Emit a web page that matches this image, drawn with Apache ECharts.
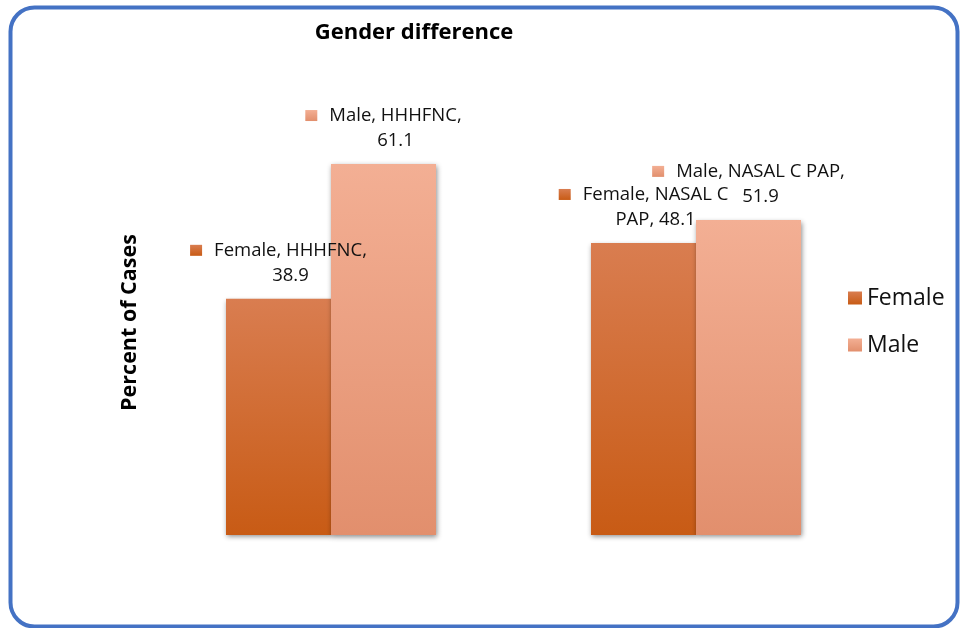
<!DOCTYPE html>
<html>
<head>
<meta charset="utf-8">
<script src="https://cdn.jsdelivr.net/npm/echarts@6/dist/echarts.min.js"></script>
<style>
  html, body { margin: 0; padding: 0; background: #fff; }
  #chart { width: 960px; height: 628px; }
</style>
</head>
<body>
<div id="chart"></div>
<script>
// ---- data ----
const categories = ['HHHFNC', 'NASAL C PAP'];
const seriesNames = ['Female', 'Male'];
const femaleValues = [38.9, 48.1];
const maleValues = [61.1, 51.9];
// number of words on the first line of each data label
const femaleFirstLineWords = [2, 3];
const maleFirstLineWords = [2, 4];
const chartTitle = 'Gender difference';
const yAxisTitle = 'Percent of Cases';

const FONT = '"Open Sans", Lato, sans-serif';

function grad(top, bottom) {
  return new echarts.graphic.LinearGradient(0, 0, 0, 1, [
    { offset: 0, color: top },
    { offset: 1, color: bottom }
  ]);
}
const femaleColor = grad('#D97D50', '#C85B15');
const maleColor = grad('#F3AF94', '#E28F6D');

function makeLabel(markerColor, firstWords) {
  return {
    show: true,
    position: 'top',
    distance: 11,
    formatter: function (p) {
      const words = (p.seriesName + ', ' + p.name + ', ' + p.value).split(' ');
      const n = firstWords[p.dataIndex];
      const l1 = words.slice(0, n).join(' ');
      const l2 = words.slice(n).join(' ');
      return '{m|}{g|}{t|' + l1 + '}\n{pad|}{t|' + l2 + '}';
    },
    rich: {
      m: { width: 12, height: 11, backgroundColor: markerColor },
      g: { width: 12 },
      pad: { width: 24 },
      t: { fontFamily: FONT, fontSize: 18.5, color: '#111', lineHeight: 25 }
    }
  };
}

const chart = echarts.init(document.getElementById('chart'), null, { renderer: 'canvas' });
chart.setOption({
  animation: false,
  backgroundColor: '#fff',
  title: {
    text: chartTitle,
    left: 409,
    top: 17,
    textAlign: 'center',
    textStyle: { fontFamily: FONT, fontSize: 22, fontWeight: 'bold', color: '#000' }
  },
  graphic: [{
    type: 'rect',
    shape: { x: 10.5, y: 7.5, width: 947, height: 619, r: 24 },
    style: { fill: 'none', stroke: '#4472C4', lineWidth: 4 },
    silent: true,
    z: 100
  }],
  legend: {
    orient: 'vertical',
    left: 843,
    top: 281,
    itemWidth: 14,
    itemHeight: 13,
    itemGap: 23,
    icon: 'rect',
    data: seriesNames,
    textStyle: { fontFamily: FONT, fontSize: 23, lineHeight: 24, color: '#111' }
  },
  grid: { left: 148.5, right: 81.5, top: 110, bottom: 93, containLabel: false },
  xAxis: {
    type: 'category',
    data: categories,
    axisLine: { show: false },
    axisTick: { show: false },
    axisLabel: { show: false },
    splitLine: { show: false }
  },
  yAxis: {
    type: 'value',
    min: 0,
    max: 70,
    name: yAxisTitle,
    nameLocation: 'middle',
    nameGap: 8,
    nameTextStyle: { fontFamily: FONT, fontSize: 21.5, fontWeight: 'bold', color: '#000' },
    axisLine: { show: false },
    axisTick: { show: false },
    axisLabel: { show: false },
    splitLine: { show: false }
  },
  series: [
    {
      name: seriesNames[0],
      type: 'bar',
      data: femaleValues,
      barWidth: 105,
      barGap: '0%',
      itemStyle: {
        color: femaleColor,
        shadowBlur: 5, shadowColor: 'rgba(0,0,0,0.45)', shadowOffsetX: 1, shadowOffsetY: 2
      },
      label: makeLabel(femaleColor, femaleFirstLineWords)
    },
    {
      name: seriesNames[1],
      type: 'bar',
      data: maleValues,
      barWidth: 105,
      barGap: '0%',
      itemStyle: {
        color: maleColor,
        shadowBlur: 5, shadowColor: 'rgba(0,0,0,0.45)', shadowOffsetX: 1, shadowOffsetY: 2
      },
      label: makeLabel(maleColor, maleFirstLineWords)
    }
  ]
});
</script>
</body>
</html>
